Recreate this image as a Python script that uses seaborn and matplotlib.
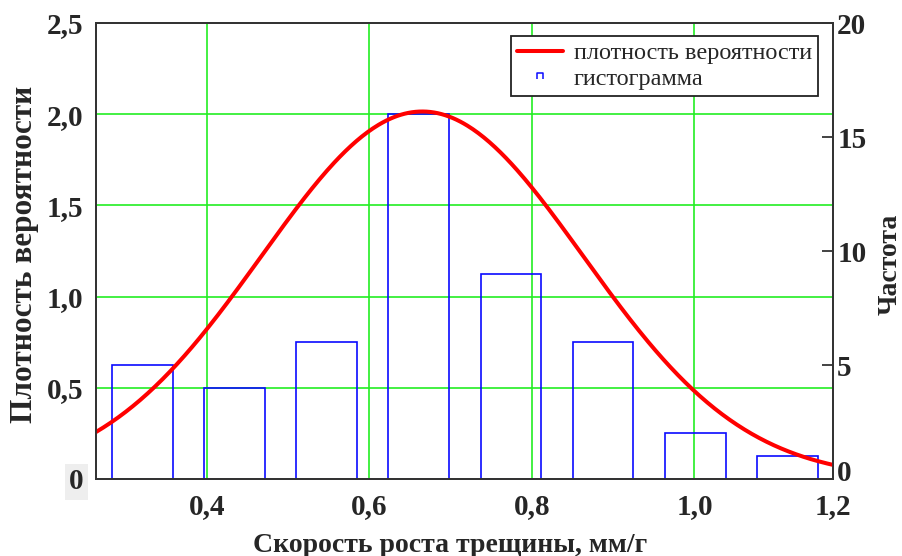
import numpy as np
import pandas as pd
import seaborn as sns
import matplotlib.pyplot as plt
from matplotlib.lines import Line2D
from matplotlib.path import Path
from matplotlib.transforms import ScaledTranslation

# histogram data
bin_centers = [0.3205, 0.4339, 0.5473, 0.6607, 0.7741, 0.8875, 1.0009, 1.1143]
counts = [5, 4, 6, 16, 9, 6, 2, 1]

# fitted normal density parameters
mu = 0.665
sigma = 0.198

x_min, x_max = 0.2634, 1.1705
x_ticks = [0.4, 0.6, 0.8, 1.0, x_max]
x_tick_labels = ["0,4", "0,6", "0,8", "1,0", "1,2"]
dens_ticks = [0, 0.5, 1.0, 1.5, 2.0, 2.5]
dens_tick_labels = ["0", "0,5", "1,0", "1,5", "2,0", "2,5"]
freq_ticks = [0, 5, 10, 15, 20]

sns.set_style("white")
plt.rcParams["font.family"] = ["Liberation Serif", "DejaVu Serif"]

fig = plt.figure(figsize=(9.03, 5.56), dpi=100)
ax = fig.add_axes([0.1063, 0.1385, 0.8162, 0.8201])
ax2 = ax.twinx()

GREEN = "#22ee22"
BLUE = "#0a0aff"
RED = "#ff0000"

# bars (frequency, right axis)
hist_df = pd.DataFrame({"x": bin_centers, "n": counts})
sns.barplot(data=hist_df, x="x", y="n", native_scale=True, width=0.66,
            fill=False, edgecolor=BLUE, linewidth=1.2, ax=ax2)

# density curve (left axis)
xs = np.linspace(x_min, x_max, 400)
pdf = np.exp(-(xs - mu) ** 2 / (2 * sigma ** 2)) / (sigma * np.sqrt(2 * np.pi))
curve_df = pd.DataFrame({"x": xs, "p": pdf})
sns.lineplot(data=curve_df, x="x", y="p", color=RED, linewidth=2.9, ax=ax)

# curve drawn above the bars
ax.set_zorder(ax2.get_zorder() + 1)
ax.patch.set_visible(False)

ax.set_xlim(x_min, x_max)
ax2.set_xlim(x_min, x_max)
ax.set_ylim(0, 2.5)
ax2.set_ylim(0, 20)

# green grid under the bars
ax.grid(False)
ax2.grid(False)
for gx in x_ticks[:-1]:
    ax2.axvline(gx, color=GREEN, linewidth=1.2, zorder=0)
for gy in dens_ticks[1:-1]:
    ax2.axhline(gy * 8, color=GREEN, linewidth=1.2, zorder=0)

ax.set_xticks(x_ticks, x_tick_labels)
ax.set_yticks(dens_ticks, dens_tick_labels)
ax.tick_params(axis="x", length=0, labelsize=21, pad=10)
ax.tick_params(axis="y", length=0, labelsize=21, pad=9)
for t in ax.get_xticklabels() + ax.get_yticklabels():
    t.set_fontweight("bold")

ax2.set_yticks(freq_ticks)
ax2.tick_params(axis="y", direction="in", length=8, width=1.2, labelsize=21,
                pad=3, color="#222222")
for t in ax2.get_yticklabels():
    t.set_fontweight("bold")

for a in (ax, ax2):
    for s in a.spines.values():
        s.set_color("#333333")
        s.set_linewidth(1.3)

ax.set_xlabel("Скорость роста трещины, мм/г", fontsize=20, fontweight="bold")
ax.xaxis.set_label_coords(0.48, -0.118)
ax.set_ylabel("Плотность вероятности", fontsize=22.5, fontweight="bold")
ax.yaxis.set_label_coords(-0.077, 0.493)
ax2.set_ylabel("Частота", fontsize=20, fontweight="bold")
ax2.yaxis.set_label_coords(1.06, 0.47)

bar_marker = Path([(-1, -1), (-1, 1), (1, 1), (1, -1)])
handles = [
    Line2D([], [], color=RED, linewidth=2.9),
    Line2D([], [], color=BLUE, linestyle="none", marker=bar_marker,
           markersize=5, markerfacecolor="none", markeredgewidth=1.1),
]
leg = ax.legend(handles, ["плотность вероятности", "гистограмма"],
                loc="upper right", bbox_to_anchor=(0.98, 0.971), fontsize=17.5,
                frameon=True, fancybox=False, framealpha=1, edgecolor="#222222",
                borderpad=0.25, labelspacing=0.15, handlelength=1.9,
                handletextpad=0.45, borderaxespad=0)
leg.get_frame().set_linewidth(1.3)

fig.canvas.draw()
ax.get_yticklabels()[0].set_bbox(dict(facecolor="#eeeeee", edgecolor="none", pad=3))
zero_r = ax2.get_yticklabels()[0]
zero_r.set_transform(zero_r.get_transform() + ScaledTranslation(0, 6 / 72, fig.dpi_scale_trans))

fig.savefig("out.png", dpi=100)
